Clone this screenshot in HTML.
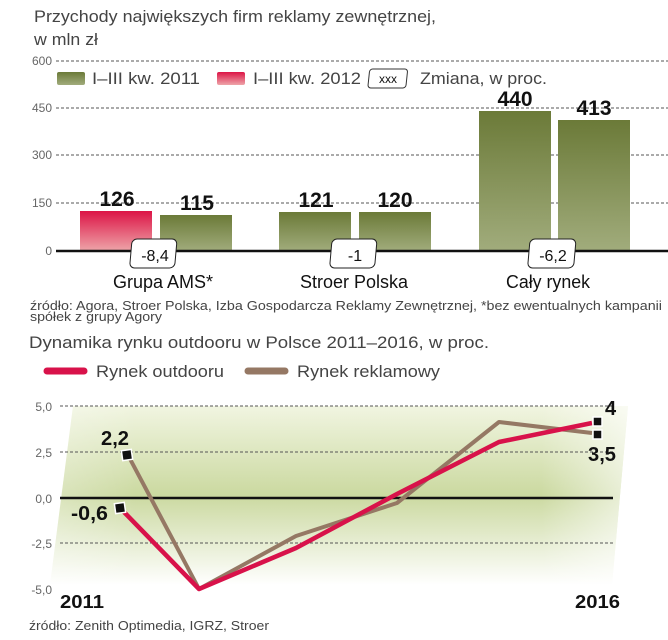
<!DOCTYPE html>
<html><head><meta charset="utf-8"><style>
html,body{margin:0;padding:0;background:#fff;}
svg{display:block;}
text{font-family:"Liberation Sans Narrow","Liberation Sans",sans-serif;}
.t{fill:#444;font-size:17px;}
.tk{fill:#666;font-size:12px;text-anchor:end;}
.b{font-weight:bold;fill:#111;}
</style></head><body>
<svg width="668" height="640" viewBox="0 0 668 640" xmlns="http://www.w3.org/2000/svg">
<defs>
<linearGradient id="gr" x1="0" y1="0" x2="0" y2="1"><stop offset="0" stop-color="#6b7a38"/><stop offset="1" stop-color="#a1ac7c"/></linearGradient>
<linearGradient id="rd" x1="0" y1="0" x2="0" y2="1"><stop offset="0" stop-color="#dc1446"/><stop offset="1" stop-color="#eea5a9"/></linearGradient>
<linearGradient id="bg" x1="0" y1="0" x2="0" y2="1"><stop offset="0" stop-color="#f1f5e1"/><stop offset="0.5" stop-color="#cbd9a0"/><stop offset="1" stop-color="#ffffff"/></linearGradient>
<linearGradient id="fx" x1="0" y1="0" x2="1" y2="0"><stop offset="0" stop-color="#fff" stop-opacity="0.3"/><stop offset="0.15" stop-color="#fff" stop-opacity="0"/><stop offset="0.85" stop-color="#fff" stop-opacity="0"/><stop offset="1" stop-color="#fff" stop-opacity="0.6"/></linearGradient>
</defs>

<!-- Top chart -->
<text class="t" x="34" y="22" textLength="402" lengthAdjust="spacingAndGlyphs">Przychody największych firm reklamy zewnętrznej,</text>
<text class="t" x="34" y="45" textLength="64" lengthAdjust="spacingAndGlyphs">w mln zł</text>

<g stroke="#555" stroke-width="1" stroke-dasharray="3,2">
<line x1="56" y1="61" x2="668" y2="61"/>
<line x1="56" y1="108" x2="668" y2="108"/>
<line x1="56" y1="155" x2="668" y2="155"/>
<line x1="56" y1="203" x2="668" y2="203"/>
</g>
<text class="tk" x="52" y="65">600</text>
<text class="tk" x="52" y="112">450</text>
<text class="tk" x="52" y="159">300</text>
<text class="tk" x="52" y="207">150</text>
<text class="tk" x="52" y="255">0</text>

<!-- legend -->
<rect x="57" y="72" width="28" height="13" rx="2" fill="url(#gr)"/>
<text class="t" x="92" y="84" textLength="108" lengthAdjust="spacingAndGlyphs">I–III kw. 2011</text>
<rect x="217" y="72" width="28" height="13" rx="2" fill="url(#rd)"/>
<text class="t" x="253" y="84" textLength="108" lengthAdjust="spacingAndGlyphs">I–III kw. 2012</text>
<rect x="369" y="69" width="38" height="19" rx="3" fill="#fff" stroke="#333" stroke-width="1" transform="skewX(-6) translate(8,0)"/>
<text x="388" y="83" font-size="12" fill="#111" text-anchor="middle">xxx</text>
<text class="t" x="420" y="84" textLength="127" lengthAdjust="spacingAndGlyphs">Zmiana, w proc.</text>

<!-- bars -->
<rect x="80" y="211" width="72" height="40" fill="url(#rd)"/>
<rect x="160" y="215" width="72" height="36" fill="url(#gr)"/>
<rect x="279" y="212" width="72" height="39" fill="url(#gr)"/>
<rect x="359" y="212" width="72" height="39" fill="url(#gr)"/>
<rect x="479" y="111" width="72" height="140" fill="url(#gr)"/>
<rect x="558" y="120" width="72" height="131" fill="url(#gr)"/>
<line x1="56" y1="251" x2="668" y2="251" stroke="#111" stroke-width="2.5"/>

<g class="b" font-size="21" text-anchor="middle">
<text x="117" y="206">126</text>
<text x="197" y="210">115</text>
<text x="316" y="207">121</text>
<text x="395" y="207">120</text>
<text x="515" y="106">440</text>
<text x="594" y="115">413</text>
</g>

<g fill="#fff" stroke="#222" stroke-width="1">
<rect x="132" y="239" width="45" height="29" rx="5" transform="skewX(-5) translate(21,0)"/>
<rect x="332" y="239" width="45" height="29" rx="5" transform="skewX(-5) translate(21,0)"/>
<rect x="530" y="239" width="46" height="29" rx="5" transform="skewX(-5) translate(21,0)"/>
</g>
<g font-size="16" fill="#111" text-anchor="middle">
<text x="155" y="261">-8,4</text>
<text x="355" y="261">-1</text>
<text x="553" y="261">-6,2</text>
</g>
<g font-size="18" fill="#111" text-anchor="middle">
<text x="163" y="288" textLength="100" lengthAdjust="spacingAndGlyphs">Grupa AMS*</text>
<text x="354" y="288" textLength="108" lengthAdjust="spacingAndGlyphs">Stroer Polska</text>
<text x="548" y="288" textLength="84" lengthAdjust="spacingAndGlyphs">Cały rynek</text>
</g>
<text x="30" y="310" font-size="13" fill="#444" textLength="632" lengthAdjust="spacingAndGlyphs">źródło: Agora, Stroer Polska, Izba Gospodarcza Reklamy Zewnętrznej, *bez ewentualnych kampanii</text>
<text x="30" y="321" font-size="13" fill="#444" textLength="132" lengthAdjust="spacingAndGlyphs">spółek z grupy Agory</text>

<!-- Bottom chart -->
<text class="t" x="29" y="348" textLength="460" lengthAdjust="spacingAndGlyphs">Dynamika rynku outdooru w Polsce 2011–2016, w proc.</text>
<line x1="47" y1="371" x2="84" y2="371" stroke="#d8124a" stroke-width="7" stroke-linecap="round"/>
<text class="t" x="96" y="377" textLength="128" lengthAdjust="spacingAndGlyphs">Rynek outdooru</text>
<line x1="248" y1="371" x2="285" y2="371" stroke="#957864" stroke-width="7" stroke-linecap="round"/>
<text class="t" x="297" y="377" textLength="143" lengthAdjust="spacingAndGlyphs">Rynek reklamowy</text>

<polygon points="73,406 628,406 612,585 50,585" fill="url(#bg)"/>
<polygon points="73,406 628,406 612,585 50,585" fill="url(#fx)"/>

<g stroke="#555" stroke-width="1" stroke-dasharray="3,2">
<line x1="60" y1="406" x2="613" y2="406"/>
<line x1="60" y1="452" x2="613" y2="452"/>
<line x1="60" y1="543" x2="613" y2="543"/>
</g>
<line x1="60" y1="498" x2="613" y2="498" stroke="#111" stroke-width="2.5"/>
<text class="tk" x="52" y="411">5,0</text>
<text class="tk" x="52" y="457">2,5</text>
<text class="tk" x="52" y="503">0,0</text>
<text class="tk" x="52" y="548">-2,5</text>
<text class="tk" x="52" y="594">-5,0</text>

<polyline points="129,457 199,589 296,536 397,503 499,422 592,433" fill="none" stroke="#957864" stroke-width="4" stroke-linejoin="round"/>
<polyline points="122,510 199,589 296,548 397,494 499,442 592,423" fill="none" stroke="#d8124a" stroke-width="4.5" stroke-linejoin="round"/>

<g fill="#111" stroke="#fff" stroke-width="1.5">
<rect x="122" y="450" width="10" height="10" transform="rotate(-8 127 455)"/>
<rect x="115" y="503" width="10" height="10" transform="rotate(-8 120 508)"/>
<rect x="593" y="417" width="9" height="9"/>
<rect x="593" y="430" width="9" height="9"/>
</g>
<g class="b" font-size="20">
<text x="101" y="445" textLength="28" lengthAdjust="spacingAndGlyphs">2,2</text>
<text x="71" y="520" textLength="37" lengthAdjust="spacingAndGlyphs">-0,6</text>
<text x="605" y="415">4</text>
<text x="588" y="461" textLength="28" lengthAdjust="spacingAndGlyphs">3,5</text>
<text x="60" y="608" font-size="18" textLength="44" lengthAdjust="spacingAndGlyphs">2011</text>
<text x="575" y="608" font-size="18" textLength="45" lengthAdjust="spacingAndGlyphs">2016</text>
</g>
<text x="29" y="630" font-size="13" fill="#444" textLength="240" lengthAdjust="spacingAndGlyphs">źródło: Zenith Optimedia, IGRZ, Stroer</text>
</svg>
</body></html>
